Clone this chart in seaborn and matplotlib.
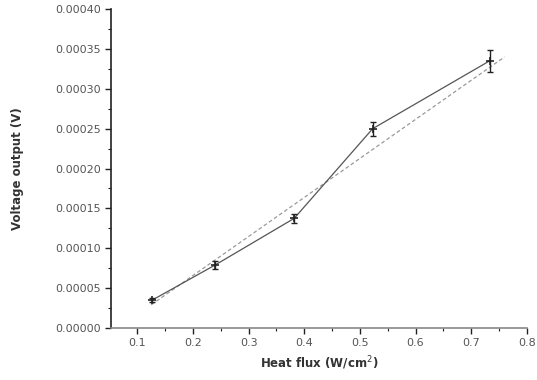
import matplotlib
matplotlib.use("Agg")
import matplotlib.pyplot as plt
import seaborn as sns
import pandas as pd
from matplotlib.ticker import MultipleLocator, FormatStrFormatter

# Data
heat_flux = [0.127, 0.240, 0.382, 0.523, 0.733]
voltage = [0.0000350, 0.0000790, 0.0001375, 0.0002500, 0.0003350]
voltage_err = [0.0000030, 0.0000045, 0.0000060, 0.0000090, 0.0000140]
fit_x = [0.125, 0.760]
fit_y = [0.0000290, 0.0003400]

x_ticks = [0.1, 0.2, 0.3, 0.4, 0.5, 0.6, 0.7, 0.8]
y_ticks = [0.0, 0.00005, 0.00010, 0.00015, 0.00020, 0.00025, 0.00030, 0.00035, 0.00040]

sns.set_theme(style="ticks")
plt.rcParams['font.family'] = ['DejaVu Sans']

df = pd.DataFrame({"x": heat_flux, "y": voltage})
fit_df = pd.DataFrame({"x": fit_x, "y": fit_y})

fig = plt.figure(figsize=(5.37, 3.80), dpi=100)
ax = fig.add_axes([0.207, 0.137, 0.774, 0.839])

sns.lineplot(data=fit_df, x="x", y="y", ax=ax, color="#9a9a9a",
             linestyle=(0, (3, 2)), linewidth=0.9)
sns.lineplot(data=df, x="x", y="y", ax=ax, color="#555555",
             linewidth=0.9, marker="+", markersize=6, markeredgewidth=1.2,
             markeredgecolor="#222222")
ax.errorbar(heat_flux, voltage, yerr=voltage_err, fmt="none",
            ecolor="#222222", elinewidth=1.0, capsize=2.5, capthick=1.0)

ax.set_xlim(0.053, 0.8)
ax.set_ylim(0.0, 0.0004)
ax.set_xticks(x_ticks)
ax.set_yticks(y_ticks)
ax.xaxis.set_minor_locator(MultipleLocator(0.05))
ax.yaxis.set_minor_locator(MultipleLocator(0.000025))
ax.xaxis.set_major_formatter(FormatStrFormatter("%.1f"))
ax.yaxis.set_major_formatter(FormatStrFormatter("%.5f"))
ax.tick_params(axis="both", which="major", direction="out", length=4,
               width=1.0, labelsize=8, colors="#222222", labelcolor="#555555")
ax.tick_params(axis="both", which="minor", direction="out", length=2.5,
               width=0.8, colors="#222222")

for s in ["top", "right"]:
    ax.spines[s].set_visible(False)
for s in ["left", "bottom"]:
    ax.spines[s].set_linewidth(1.2)
    ax.spines[s].set_color("#222222")
ax.spines["bottom"].set_color("#888888")

ax.set_xlabel("Heat flux (W/cm$^2$)", fontsize=8.5, fontweight="bold",
              color="#333333", labelpad=4)
ax.set_ylabel("Voltage output (V)", fontsize=8.5, fontweight="bold",
              color="#333333", labelpad=22)

fig.savefig("out.png", dpi=100)
